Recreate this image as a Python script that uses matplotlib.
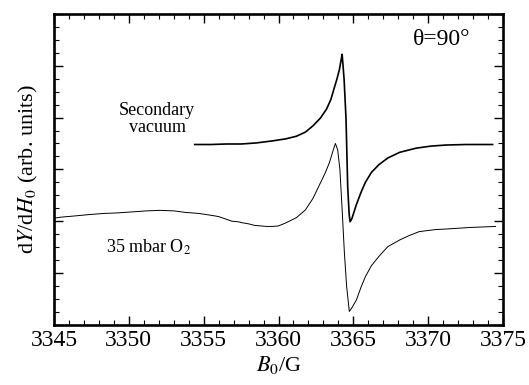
import matplotlib
matplotlib.use("Agg")
import matplotlib.pyplot as plt
from matplotlib.ticker import MultipleLocator, NullFormatter

# Field values (G) and derivative signal (arb. units)
b_vac = [3354.4, 3355.5, 3356.5, 3357.5, 3358.5, 3359.6, 3360.5, 3361.2, 3361.8,
         3362.3, 3362.8, 3363.2, 3363.5, 3363.7, 3363.9, 3364.07, 3364.18, 3364.25,
         3364.38, 3364.51, 3364.62, 3364.72, 3364.78, 3364.9, 3365.2, 3365.5,
         3365.8, 3366.2, 3366.7, 3367.3, 3368.1, 3369.2, 3370.2, 3371.2, 3372.5,
         3373.5, 3374.3]
y_vac = [3.48, 3.48, 3.49, 3.49, 3.51, 3.55, 3.59, 3.64, 3.72,
         3.84, 3.99, 4.16, 4.35, 4.55, 4.74, 4.93, 5.11, 5.22,
         4.74, 3.97, 2.67, 2.13, 1.99, 2.05, 2.32, 2.55,
         2.75, 2.94, 3.09, 3.22, 3.33, 3.41, 3.45, 3.47, 3.48,
         3.48, 3.48]

b_o2 = [3345.0, 3345.5, 3346.3, 3347.4, 3348.3, 3349.2, 3350.2, 3351.2, 3352.1,
        3353.0, 3353.8, 3354.7, 3355.6, 3356.0, 3356.3, 3356.6, 3356.9, 3357.3,
        3357.6, 3358.0, 3358.4, 3358.8, 3359.2, 3359.6,
        3360.0, 3360.5, 3361.2, 3361.8, 3362.3, 3362.7, 3363.1, 3363.4, 3363.65,
        3363.8, 3363.95, 3364.1, 3364.25, 3364.4, 3364.55, 3364.73, 3364.9,
        3365.2, 3365.5, 3365.8, 3366.2, 3366.7, 3367.3, 3368.1, 3368.7, 3369.4,
        3370.5, 3371.2, 3372.8, 3374.5]
y_o2 = [2.06, 2.08, 2.10, 2.13, 2.15, 2.16, 2.18, 2.20, 2.21,
        2.20, 2.17, 2.15, 2.11, 2.09, 2.06, 2.03, 2.00, 1.99,
        1.97, 1.95, 1.92, 1.91, 1.90, 1.90,
        1.91, 1.97, 2.07, 2.22, 2.44, 2.68, 2.92, 3.13, 3.37,
        3.50, 3.38, 3.00, 2.22, 1.39, 0.74, 0.26, 0.33,
        0.48, 0.72, 0.93, 1.14, 1.32, 1.51, 1.64, 1.72, 1.80,
        1.84, 1.85, 1.88, 1.90]

x_ticks = [3345, 3350, 3355, 3360, 3365, 3370, 3375]

plt.rcParams['font.family'] = ['Liberation Serif', 'DejaVu Serif']
plt.rcParams['mathtext.fontset'] = 'stix'

fig = plt.figure(figsize=(5.29, 3.85), dpi=100)
ax = fig.add_axes([0.102, 0.156, 0.849, 0.808])

ax.plot(b_vac, y_vac, color='black', lw=1.2)
ax.plot(b_o2, y_o2, color='black', lw=0.7)

ax.set_xlim(3345, 3375)
ax.set_ylim(0, 6)
ax.set_xticks(x_ticks)
ax.xaxis.set_minor_locator(MultipleLocator(1))
ax.yaxis.set_major_locator(MultipleLocator(1))
ax.yaxis.set_minor_locator(MultipleLocator(0.25))
ax.yaxis.set_major_formatter(NullFormatter())

for s in ax.spines.values():
    s.set_linewidth(1.9)
ax.tick_params(which='both', direction='in', top=True, right=True)
ax.tick_params(which='major', length=6.5, width=1.0, labelsize=17, pad=4)
ax.tick_params(which='minor', length=3.5, width=0.8)

ax.set_xlabel('$B_0$/G', fontsize=16, labelpad=2)
ax.set_ylabel('d$Y$/d$H_0$ (arb. units)', fontsize=16, labelpad=6)

ax.text(3369.0, 5.5, 'θ=90°', fontsize=17, ha='left', va='center')
ax.text(3351.9, 3.97, 'Secondary\nvacuum', fontsize=13, ha='center', va='center',
        linespacing=1.0)
ax.text(3348.5, 1.5, '35 mbar O$_2$', fontsize=13, ha='left', va='center')

fig.savefig('out.png', dpi=100)
